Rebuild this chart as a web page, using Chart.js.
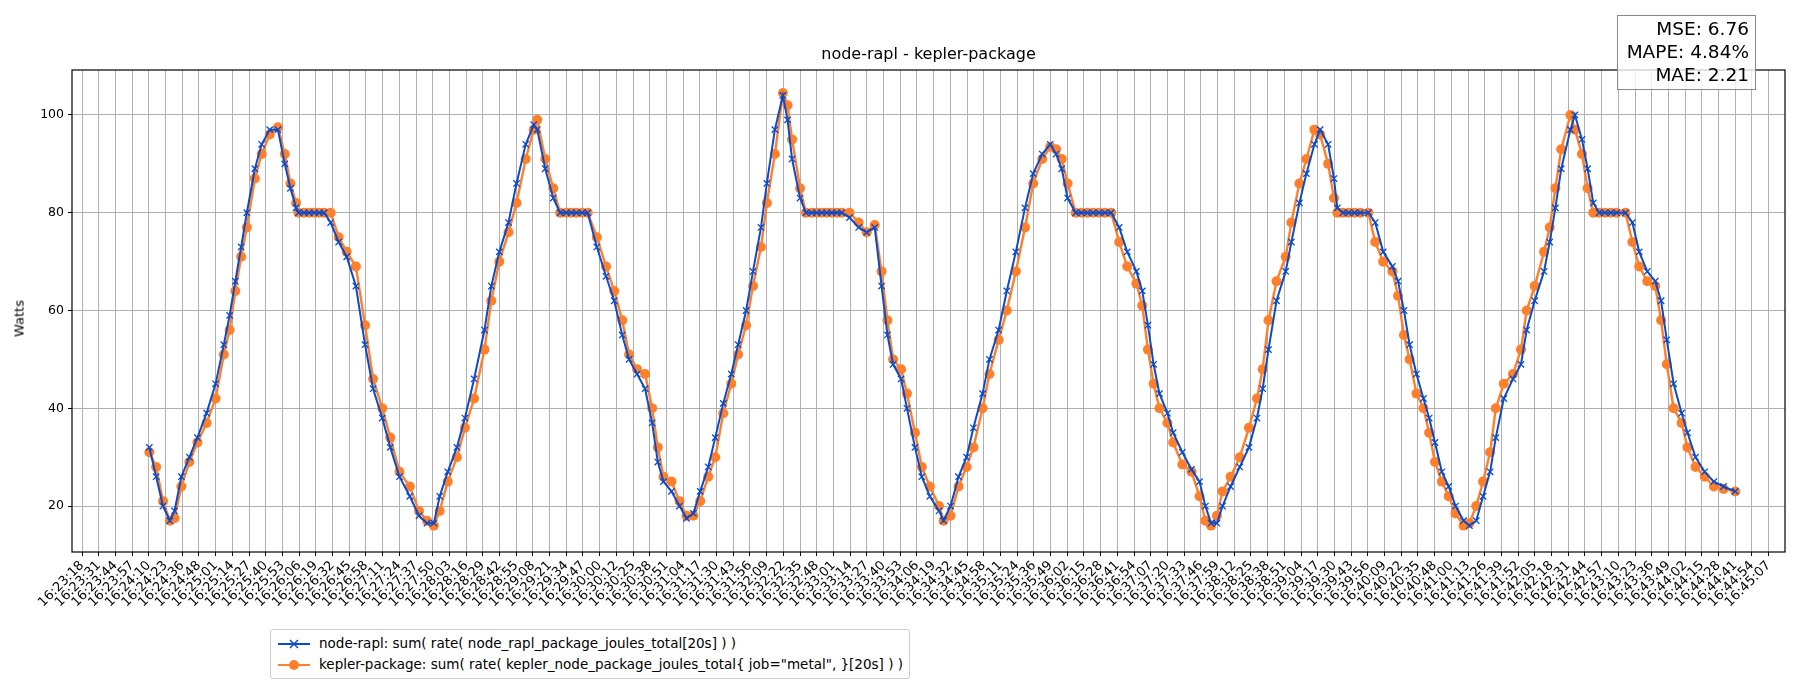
<!DOCTYPE html>
<html><head><meta charset="utf-8">
<script src="https://cdn.jsdelivr.net/npm/chart.js@4"></script>
<style>
body{margin:0;background:#fff;font-family:"DejaVu Sans",sans-serif;}
#wrap{position:relative;width:1800px;height:700px;}
#title{position:absolute;top:44px;left:72px;width:1713px;text-align:center;font-size:16px;color:#000;}
#ylab{position:absolute;left:8px;top:311px;transform:rotate(-90deg);transform-origin:center;font-size:13px;width:50px;text-align:center;margin-left:-14px;}
#stats{position:absolute;left:1617px;top:15px;width:131px;height:70px;border:1px solid #888;background:rgba(255,255,255,0.8);text-align:right;font-size:18.5px;line-height:23px;padding:1px 6px 2px 0;}
#legend{position:absolute;left:270px;top:629px;border:1px solid #ccc;border-radius:3px;padding:3px 6px;font-size:13.5px;line-height:21px;background:#fff;}
#legend div{display:flex;align-items:center;}
#legend svg{margin-right:8px;}
</style></head><body>
<div id="wrap">
<canvas id="c" width="1800" height="700"></canvas>
<div id="title">node-rapl - kepler-package</div>
<div id="ylab">Watts</div>
<div id="stats">MSE: 6.76<br>MAPE: 4.84%<br>MAE: 2.21</div>
<div id="legend">
<div><svg width="34" height="12"><line x1="1" y1="6" x2="33" y2="6" stroke="#0a4bc9" stroke-width="2"/><path d="M13 2L21 10M21 2L13 10" stroke="#0a4bc9" stroke-width="1.5"/></svg>node-rapl: sum( rate( node_rapl_package_joules_total[20s] ) )</div>
<div><svg width="34" height="12"><line x1="1" y1="6" x2="33" y2="6" stroke="#ff7f2a" stroke-width="2"/><circle cx="17" cy="6" r="5" fill="#ff7f2a"/></svg>kepler-package: sum( rate( kepler_node_package_joules_total{ job="metal", }[20s] ) )</div>
</div>
</div>
<script>
const tickLabels = ["16:23:18","16:23:31","16:23:44","16:23:57","16:24:10","16:24:23","16:24:36","16:24:48","16:25:01","16:25:14","16:25:27","16:25:40","16:25:53","16:26:06","16:26:19","16:26:32","16:26:45","16:26:58","16:27:11","16:27:24","16:27:37","16:27:50","16:28:03","16:28:16","16:28:29","16:28:42","16:28:55","16:29:08","16:29:21","16:29:34","16:29:47","16:30:00","16:30:12","16:30:25","16:30:38","16:30:51","16:31:04","16:31:17","16:31:30","16:31:43","16:31:56","16:32:09","16:32:22","16:32:35","16:32:48","16:33:01","16:33:14","16:33:27","16:33:40","16:33:53","16:34:06","16:34:19","16:34:32","16:34:45","16:34:58","16:35:11","16:35:24","16:35:36","16:35:49","16:36:02","16:36:15","16:36:28","16:36:41","16:36:54","16:37:07","16:37:20","16:37:33","16:37:46","16:37:59","16:38:12","16:38:25","16:38:38","16:38:51","16:39:04","16:39:17","16:39:30","16:39:43","16:39:56","16:40:09","16:40:22","16:40:35","16:40:48","16:41:00","16:41:13","16:41:26","16:41:39","16:41:52","16:42:05","16:42:18","16:42:31","16:42:44","16:42:57","16:43:10","16:43:23","16:43:36","16:43:49","16:44:02","16:44:15","16:44:28","16:44:41","16:44:54","16:45:07"];
const sampleTime = [4.03,4.44,4.85,5.26,5.54,5.95,6.43,6.91,7.46,8.0,8.49,8.84,9.18,9.53,9.87,10.35,10.76,11.24,11.73,12.14,12.48,12.82,12.96,13.3,13.6,13.9,14.2,14.5,14.89,
15.37,15.85,16.4,16.95,17.43,17.98,18.46,19.01,19.63,20.18,20.66,21.07,21.42,21.9,22.45,22.93,23.48,24.1,24.51,24.99,25.54,26.02,26.57,27.05,27.26,27.74,28.22,28.63,29.0,29.3,29.6,29.95,30.28,
30.83,31.38,31.87,32.35,32.76,33.24,33.72,34.14,34.48,34.82,35.3,35.78,36.2,36.61,37.02,37.5,37.92,38.4,38.88,39.29,39.77,40.18,40.66,41.01,41.49,41.97,42.25,42.52,43.0,43.35,43.7,44.0,44.3,44.6,44.9,45.2,45.5,45.96,
46.51,46.99,47.47,47.88,48.23,48.57,49.05,49.4,49.88,50.29,50.77,51.32,51.59,52.01,52.49,52.97,53.38,53.93,54.34,54.89,55.38,55.92,56.47,56.96,57.5,57.98,58.33,58.67,59.02,59.5,59.85,60.2,60.55,60.9,61.25,61.63,
62.11,62.59,63.14,63.49,63.83,64.17,64.52,65.0,65.34,65.89,66.44,66.92,67.27,67.61,67.96,68.3,68.78,69.33,69.88,70.36,70.7,71.05,71.53,72.08,72.42,72.9,73.32,73.8,74.14,74.62,74.97,75.17,75.5,75.85,76.2,76.55,77.03,
77.44,77.92,78.47,78.81,79.16,79.5,79.91,80.33,80.67,81.02,81.43,81.84,82.25,82.73,83.08,83.49,83.9,84.32,84.66,85.14,85.69,86.17,86.51,86.99,87.55,87.89,88.23,88.58,89.13,89.4,89.82,90.16,90.5,90.85,91.2,91.55,91.9,92.43,
92.84,93.25,93.73,94.21,94.56,94.9,95.31,95.79,96.14,96.62,97.17,97.72,98.3,99.0];
const keplerWatts = [31,28,21,17,17.5,24,29,33,37,42,51,56,64,71,77,87,92,96,97.5,92,86,82,80,80,80,80,80,80,80,
75,72,69,57,46,40,34,27,24,19,17,16,19,25,30,36,42,52,62,70,76,82,91,97,99,91,85,80,80,80,80,80,80,
75,69,64,58,51,48,47,40,32,26,25,21,18,18,21,26,30,39,45,51,57,65,73,82,92,104.5,102,95,85,80,80,80,80,80,80,80,80,80,
78,76,77.5,68,58,50,48,43,35,28,24,20,17,18,24,28,32,40,47,54,60,68,77,86,91,93.5,93,91,86,80,80,80,80,80,80,80,
74,69,65.5,61,52,45,40,37,33,28.5,27,22,17,16,18,23,26,30,36,42,48,58,66,71,78,86,91,97,96,90,83,80,80,80,80,80,80,
74,70,68,63,55,50,43,40,35,29,25,22,18.5,16,16.5,20,25,31,40,45,47,52,60,65,72,77,85,93,100,97,92,85,80,80,80,80,80,80,
74,69,66,65,58,49,40,37,32,28,26,24,23.5,23];
const raplWatts = [32,26,20,17,19,26,30,34,39,45,53,59,66,73,80,89,94,97,97,90,85,81,80,80,80,80,80,80,78,
74,71,65,53,44,38,32,26,22,18,16.5,16.5,22,27,32,38,46,56,65,72,78,86,94,98,97,89,83,80,80,80,80,80,80,
73,67,62,55,50,47,44,37,29,25,23,20,17.5,18.5,23,28,34,41,47,53,60,68,77,86,97,104,99,91,83,80,80,80,80,80,80,80,80,79,
77,76,77,65,55,49,46,40,32,26,22,19,17,20,26,30,36,43,50,56,64,72,81,88,92,94,92,89,83,80,80,80,80,80,80,80,77,
72,68,64,57,49,43,39,35,31,27.5,25,20,16.5,16.5,20,24,28,32,38,44,52,62,68,74,82,88,94,97,94,87,81,80,80,80,80,80,78,
72,69,66,60,53,47,42,38,33,27,24,20,17,16,17,22,27,34,42,46,49,56,62,68,74,81,89,97,100,95,89,82,80,80,80,80,80,78,
72,68,66,62,54,45,39,35,30,27,25,24,23,21];

const pts = (w) => sampleTime.map((t, i) => ({x: t, y: w[i]}));

const framePlugin = {
  id: 'frame',
  afterDraw(chart) {
    const a = chart.chartArea, ctx = chart.ctx;
    ctx.save(); ctx.strokeStyle = '#000'; ctx.lineWidth = 1.2;
    ctx.strokeRect(a.left, a.top, a.right - a.left, a.bottom - a.top);
    ctx.restore();
  }
};

new Chart(document.getElementById('c'), {
  type: 'line',
  data: { datasets: [
    { label: 'node-rapl', data: pts(raplWatts), borderColor: '#0a4bc9', backgroundColor: '#0a4bc9',
      borderWidth: 2, pointStyle: 'crossRot', pointRadius: 4.5, pointBorderWidth: 1.3, tension: 0 },
    { label: 'kepler-package', data: pts(keplerWatts), borderColor: '#ff7f2a', backgroundColor: '#ff7f2a',
      borderWidth: 2.4, pointStyle: 'circle', pointRadius: 5, pointBorderWidth: 0, tension: 0 }
  ]},
  options: {
    responsive: false, animation: false, devicePixelRatio: 1,
    layout: { padding: { top: 70, right: 15, left: 0, bottom: 0 } },
    plugins: { legend: { display: false }, title: { display: false }, tooltip: { enabled: false } },
    scales: {
      x: { type: 'linear', min: -0.6, max: 101.98,
        afterBuildTicks: (s) => { s.ticks = tickLabels.map((_, i) => ({ value: i })); },
        afterFit: (s) => { s.height = 148; },
        grid: { color: '#b0b0b0', lineWidth: 1, tickColor: '#000', tickLength: 4, drawOnChartArea: true },
        border: { display: false },
        ticks: { autoSkip: false, maxRotation: 45, minRotation: 45, color: '#000',
          font: { family: 'DejaVu Sans', size: 13 }, padding: 2,
          callback: (v) => tickLabels[v] ?? '' } },
      y: { min: 10.6, max: 109.2,
        afterBuildTicks: (s) => { s.ticks = [20, 40, 60, 80, 100].map(v => ({ value: v })); },
        afterFit: (s) => { s.width = 72; },
        grid: { color: '#b0b0b0', lineWidth: 1, tickColor: '#000', tickLength: 4 },
        border: { display: false },
        ticks: { color: '#000', font: { family: 'DejaVu Sans', size: 12.5 }, padding: 4 } }
    }
  },
  plugins: [framePlugin]
});
</script>
</body></html>
